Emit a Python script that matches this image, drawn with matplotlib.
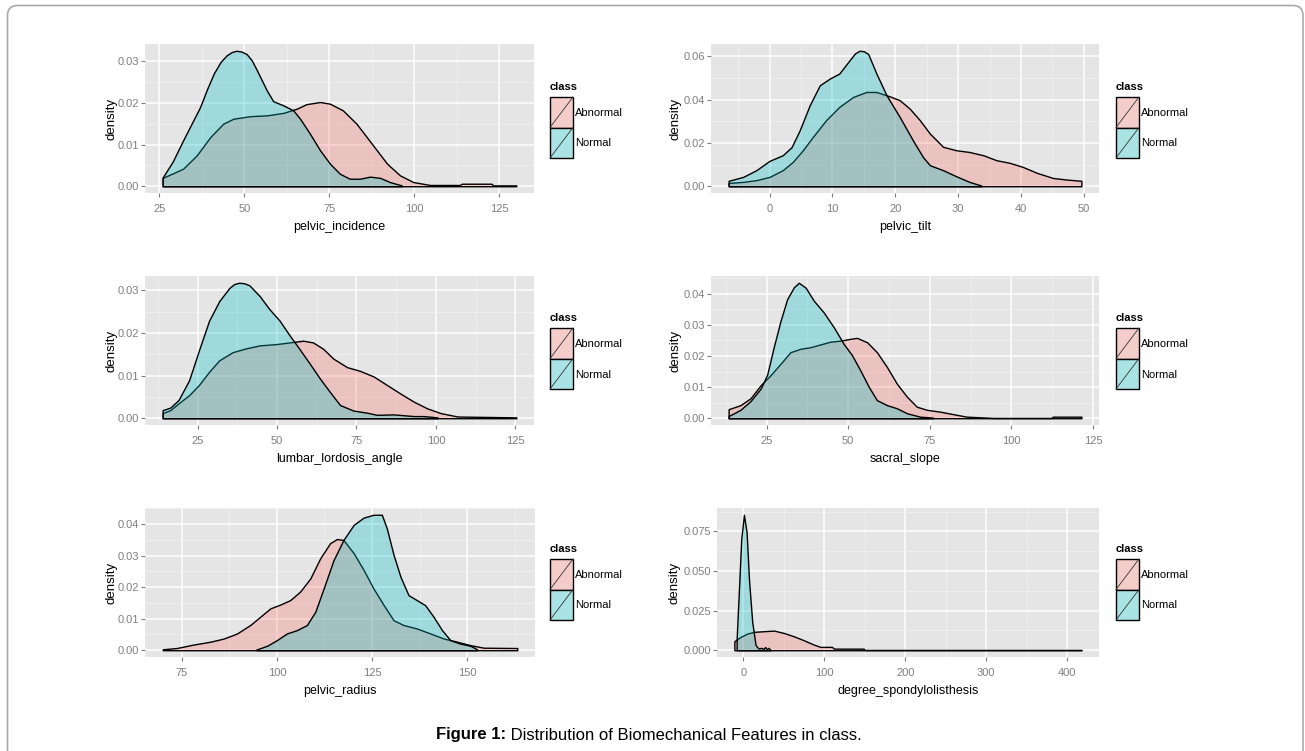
import numpy as np
import matplotlib
matplotlib.use("Agg")
import matplotlib.pyplot as plt
from matplotlib.patches import Rectangle, FancyBboxPatch

plt.rcParams['font.family'] = ['Liberation Sans', 'DejaVu Sans']

# ---- data (x, density) ----
pi_x_abn = [26, 32, 36, 40, 43.8, 46.8, 51.7, 56.6, 61.5, 65.4, 68.3, 72.3, 75.2, 79, 83, 86, 89, 92,
            95.8, 99.7, 104.6, 113.4, 114, 122.7, 123.2, 130]
pi_y_abn = [0.002, 0.0042, 0.0074, 0.0118, 0.015, 0.0162, 0.0168, 0.017, 0.0176, 0.0186, 0.0197, 0.0202,
            0.0198, 0.0182, 0.015, 0.0118, 0.0086, 0.0054, 0.0026, 0.001, 0.0003, 0.0003, 0.0006, 0.0006,
            0.0002, 0.0002]
pi_x_norm = [26, 29, 32, 34.5, 37, 39, 41, 43, 44.8, 46.3, 47.7, 49.2, 50.7, 52.2, 53.6, 56.6, 58.5, 61.5,
             64.4, 66.4, 69.3, 72.3, 75.2, 78.1, 81, 84, 87, 90, 92.8, 96.3]
pi_y_norm = [0.0021, 0.006, 0.011, 0.015, 0.019, 0.0232, 0.027, 0.0298, 0.0314, 0.0322, 0.0325, 0.0323,
             0.0317, 0.0302, 0.028, 0.023, 0.0204, 0.0194, 0.0182, 0.0162, 0.0126, 0.0086, 0.0054, 0.003,
             0.0018, 0.0018, 0.0023, 0.002, 0.001, 0.0002]

pt_x_abn = [-6.5, -4.2, -2.1, 0, 2.1, 3.7, 5.3, 6.9, 9, 11.1, 13.3, 15.4, 17, 19.1, 20.7, 22.3, 23.9, 25.5,
            27.6, 29.7, 31.8, 34, 36.1, 38.2, 40.3, 42.5, 45.1, 47.2, 49.6]
pt_y_abn = [0.0015, 0.002, 0.0028, 0.0043, 0.0074, 0.0112, 0.0166, 0.0228, 0.0305, 0.0366, 0.0412, 0.0435,
            0.0435, 0.0415, 0.0397, 0.0358, 0.0305, 0.0243, 0.0182, 0.0166, 0.0158, 0.0143, 0.012, 0.0108,
            0.0089, 0.0062, 0.0038, 0.0031, 0.0025]
pt_x_norm = [-6.5, -4.2, -2.1, 0, 2.1, 3.5, 4.8, 6.4, 8, 9.6, 11.1, 12.7, 13.6, 14.3, 15, 15.7, 17, 18.6,
             20.7, 22.8, 24.4, 25.5, 27.6, 29.7, 31.8, 33.7]
pt_y_norm = [0.0025, 0.0043, 0.0074, 0.0117, 0.0143, 0.018, 0.0258, 0.0374, 0.0466, 0.0497, 0.052, 0.058,
             0.0613, 0.0625, 0.0623, 0.061, 0.052, 0.042, 0.032, 0.0212, 0.0135, 0.0097, 0.0074, 0.0046,
             0.002, 0.0003]

ll_x_abn = [14, 16.4, 19, 22.3, 25.4, 28.6, 31.8, 36, 40.2, 44.5, 49.7, 54, 58.2, 61.3, 64.5, 67.7, 72,
            76.2, 80.4, 84.6, 88.8, 93, 97.3, 101.5, 106.8, 125.3]
ll_y_abn = [0.0012, 0.0019, 0.0035, 0.0054, 0.0078, 0.0109, 0.0136, 0.0155, 0.0164, 0.0171, 0.0174, 0.0178,
            0.0182, 0.0178, 0.0163, 0.014, 0.012, 0.0111, 0.0098, 0.0078, 0.0058, 0.0039, 0.0023, 0.0012,
            0.0004, 0.0002]
ll_x_norm = [14, 16.4, 19, 22.3, 25.4, 28.6, 31.8, 35, 36.5, 38, 39.6, 41.3, 44.5, 47.6, 50.8, 54, 57, 60.3,
             63.5, 66.6, 69.8, 74, 78.3, 81.4, 86.7, 93, 96.2, 100.5]
ll_y_norm = [0.0019, 0.0025, 0.0043, 0.0089, 0.0159, 0.0229, 0.0275, 0.0306, 0.0315, 0.0318, 0.0317,
             0.0312, 0.0287, 0.0256, 0.0229, 0.0194, 0.0163, 0.0128, 0.0093, 0.0062, 0.0031, 0.0018, 0.0013,
             0.0008, 0.0009, 0.0005, 0.0005, 0.0002]

ss_x_abn = [13.4, 17, 20.1, 23.2, 26.2, 29.3, 32.3, 35.4, 38.4, 41.5, 44.6, 47.6, 50.7, 52.7, 55.8, 58.8,
            61.9, 64.9, 68, 71, 74.1, 78.2, 82.2, 86.3, 90.4, 94.5, 112.3, 112.6, 121.4]
ss_y_abn = [0.0029, 0.0042, 0.0064, 0.0106, 0.0138, 0.0175, 0.0212, 0.0223, 0.0228, 0.0237, 0.0246, 0.0249,
            0.0255, 0.0258, 0.0244, 0.0212, 0.0164, 0.0111, 0.0069, 0.0037, 0.0027, 0.0021, 0.0013, 0.0005,
            0.0003, 0.0001, 0.0001, 0.0005, 0.0005]
ss_x_norm = [13.4, 17, 20.1, 23.2, 25.2, 27.2, 29.3, 31.3, 33.4, 34.9, 37, 39.5, 42.5, 45.6, 48.6, 51.2,
             53.7, 56.3, 58.8, 61.9, 64.9, 68, 72, 76]
ss_y_norm = [0.0007, 0.0027, 0.0055, 0.0095, 0.014, 0.0228, 0.0313, 0.0382, 0.0421, 0.0435, 0.0419, 0.0377,
             0.034, 0.0292, 0.0239, 0.0202, 0.0154, 0.0101, 0.0058, 0.0042, 0.0032, 0.0016, 0.0005, 0.0002]

pr_x_abn = [70, 73.7, 78.1, 82.5, 86, 89.5, 93, 95.6, 98.3, 100.9, 103.5, 106.1, 108.8, 111.4, 114, 115.8,
            117.5, 120.2, 122.8, 125.4, 128.1, 130.7, 133.3, 136.8, 140.4, 143.9, 147.4, 150.9, 154.4, 163.2]
pr_y_abn = [0.0003, 0.0007, 0.0018, 0.0027, 0.0037, 0.0053, 0.008, 0.0106, 0.0133, 0.0145, 0.0159, 0.0186,
            0.0228, 0.0292, 0.034, 0.0353, 0.035, 0.0308, 0.0255, 0.0196, 0.0143, 0.0095, 0.008, 0.0069,
            0.0053, 0.0037, 0.0027, 0.0016, 0.0008, 0.0007]
pr_x_norm = [94.6, 97.4, 100, 102.6, 105.3, 107.9, 110.1, 112.3, 114.9, 117.5, 120.2, 122.8, 125.4, 127.6,
             128.9, 130.7, 132.5, 134.6, 136.8, 139, 141.2, 143.4, 145.6, 148.2, 150.9, 152.6]
pr_y_norm = [0.0002, 0.0014, 0.0032, 0.0053, 0.0064, 0.008, 0.0122, 0.0196, 0.0286, 0.035, 0.0398, 0.0421,
             0.043, 0.043, 0.0387, 0.0302, 0.0233, 0.0175, 0.0159, 0.0143, 0.0106, 0.0064, 0.0032, 0.0021,
             0.0014, 0.0003]

ds_x_abn = [-11, -3.3, 4.9, 13.1, 25.5, 37.8, 50.1, 62.4, 74.7, 86.9, 95.1, 109.6, 111.7, 148.7, 149.5, 417.7]
ds_y_abn = [0.0057, 0.0084, 0.0105, 0.0116, 0.012, 0.0124, 0.0109, 0.0088, 0.0063, 0.0036, 0.0021, 0.0021,
            0.001, 0.001, 0.0002, 0.0002]
ds_x_norm = [-8.2, -5.3, -2.5, 0.8, 4.1, 7, 11, 15.2, 19, 22, 25, 27, 29, 31, 33.7]
ds_y_norm = [0.007, 0.039, 0.07, 0.0855, 0.0745, 0.045, 0.018, 0.0032, 0.001, 0.0015, 0.0008, 0.002,
             0.0007, 0.0015, 0.0002]

features = ['pelvic_incidence', 'pelvic_tilt', 'lumbar_lordosis_angle',
            'sacral_slope', 'pelvic_radius', 'degree_spondylolisthesis']
curves = [((pi_x_abn, pi_y_abn), (pi_x_norm, pi_y_norm)),
          ((pt_x_abn, pt_y_abn), (pt_x_norm, pt_y_norm)),
          ((ll_x_abn, ll_y_abn), (ll_x_norm, ll_y_norm)),
          ((ss_x_abn, ss_y_abn), (ss_x_norm, ss_y_norm)),
          ((pr_x_abn, pr_y_abn), (pr_x_norm, pr_y_norm)),
          ((ds_x_abn, ds_y_abn), (ds_x_norm, ds_y_norm))]
xticks = [[25, 50, 75, 100, 125], [0, 10, 20, 30, 40, 50], [25, 50, 75, 100, 125],
          [25, 50, 75, 100, 125], [75, 100, 125, 150], [0, 100, 200, 300, 400]]
yticks = [[0, 0.01, 0.02, 0.03], [0, 0.02, 0.04, 0.06], [0, 0.01, 0.02, 0.03],
          [0, 0.01, 0.02, 0.03, 0.04], [0, 0.01, 0.02, 0.03, 0.04], [0, 0.025, 0.05, 0.075]]
ytick_fmt = ['%.2f', '%.2f', '%.2f', '%.2f', '%.2f', '%.3f']
classes = ['Abnormal', 'Normal']

# ---- layout (pixels) ----
W, H = 1305, 751
RED = (248 / 255, 118 / 255, 109 / 255)
CYAN = (0, 191 / 255, 196 / 255)
ALPHA = 0.3
cols = [(145, 534), (711, 1099)]
cols_last = [(145, 535), (717, 1099)]
ylab_x = [112, 675]
leg_x = [550, 1116]
row_top = [44, 276, 508]
ph = 149

fig = plt.figure(figsize=(W / 100, H / 100), dpi=100)
ov = fig.add_axes([0, 0, 1, 1])
ov.set_xlim(0, W)
ov.set_ylim(H, 0)
ov.axis('off')

ov.add_patch(FancyBboxPatch((7.5, 5.5), 1295.5, 800, boxstyle='round,pad=0,rounding_size=10',
                            facecolor='none', edgecolor='#a9a9a9', linewidth=1.2))


def minor_breaks(ticks, lo, hi):
    step = ticks[1] - ticks[0]
    m = [t + step / 2 for t in [ticks[0] - step] + list(ticks)]
    return [v for v in m if lo < v < hi]


for i, feat in enumerate(features):
    r, c = divmod(i, 2)
    l, rr = (cols_last if r == 2 else cols)[c]
    t = row_top[r]
    ax = fig.add_axes([l / W, 1 - (t + ph) / H, (rr - l) / W, ph / H])
    ax.set_facecolor('#e5e5e5')
    for s in ax.spines.values():
        s.set_visible(False)

    (xa, ya), (xn, yn) = curves[i]
    xmin = min(xa[0], xn[0])
    xmax = max(xa[-1], xn[-1])
    ymax = max(max(ya), max(yn))
    dx = (xmax - xmin) * 0.05
    ax.set_xlim(xmin - dx, xmax + dx)
    ax.set_ylim(-0.05 * ymax, ymax * 1.05)

    ax.fill_between(xa, 0, ya, facecolor=RED + (ALPHA,), edgecolor='black', linewidth=1.0, zorder=3)
    ax.fill_between(xn, 0, yn, facecolor=CYAN + (ALPHA,), edgecolor='black', linewidth=1.0, zorder=4)

    ax.set_xticks(xticks[i])
    ax.set_yticks(yticks[i])
    ax.set_yticklabels([ytick_fmt[i] % v for v in yticks[i]])
    ax.set_xticks(minor_breaks(xticks[i], *ax.get_xlim()), minor=True)
    ax.set_yticks(minor_breaks(yticks[i], *ax.get_ylim()), minor=True)
    ax.grid(which='major', color='white', linewidth=1.1, zorder=1)
    ax.grid(which='minor', color='#f2f2f2', linewidth=0.6, zorder=1)
    ax.set_axisbelow(True)
    ax.tick_params(which='major', length=3, width=0.8, color='#7f7f7f', labelcolor='#7f7f7f',
                   labelsize=8)
    ax.tick_params(axis='x', pad=5)
    ax.tick_params(axis='y', pad=1)
    ax.tick_params(which='minor', length=0)

    ax.set_xlabel(feat, fontsize=9, va='center')
    ax.xaxis.set_label_coords(0.5, -34 / ph)
    ax.set_ylabel('density', fontsize=9.5, va='center')
    ax.yaxis.set_label_coords(-(l - ylab_x[c]) / (rr - l), 0.5)

    # legend
    lx = leg_x[c]
    ly = 87 + 231 * r
    ov.text(lx, ly, 'class', fontsize=8, fontweight='bold', va='center', ha='left')
    for k, (name, col) in enumerate(zip(classes, [RED, CYAN])):
        ky = ly + 10 + 30.5 * k
        base = np.array([242, 242, 242]) / 255
        face = tuple(base * (1 - ALPHA) + np.array(col) * ALPHA)
        ov.add_patch(Rectangle((lx, ky), 23, 30.5, facecolor=face, edgecolor='black', linewidth=1.0))
        ov.plot([lx, lx + 23], [ky + 30.5, ky], color='#333333', linewidth=0.6)
        ov.text(lx + 25, ky + 16, name, fontsize=8, va='center', ha='left')

# caption
fig.canvas.draw()
rend = fig.canvas.get_renderer()
t1 = ov.text(0, 735, 'Figure 1:', fontsize=12, fontweight='bold', va='center', ha='left')
t2 = ov.text(0, 735, ' Distribution of Biomechanical Features in class.', fontsize=12,
             va='center', ha='left')
w1 = t1.get_window_extent(rend).width
w2 = t2.get_window_extent(rend).width
x0 = 649 - (w1 + w2) / 2
t1.set_x(x0)
t2.set_x(x0 + w1)

fig.savefig('out.png', dpi=100)
